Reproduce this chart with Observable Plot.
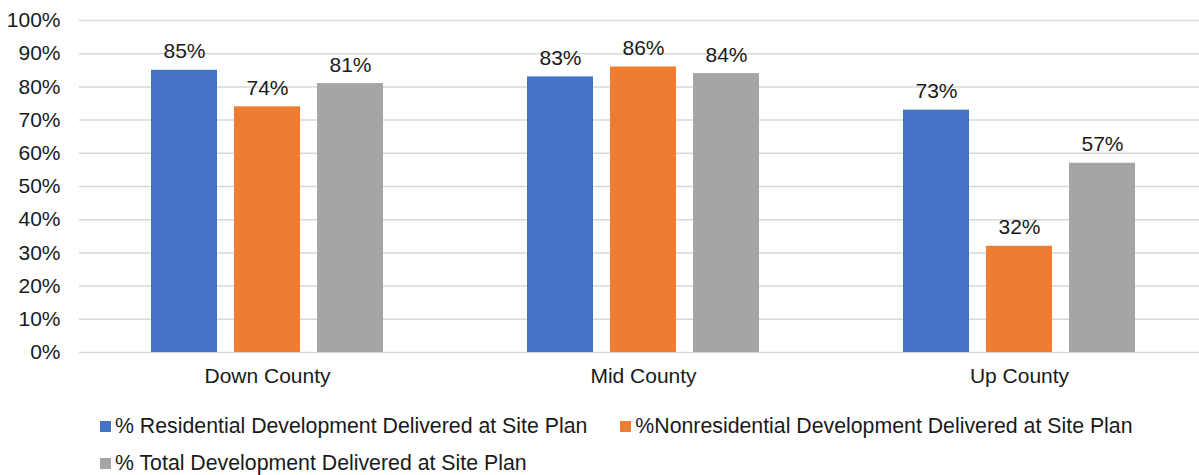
<!DOCTYPE html>
<html>
<head>
<meta charset="utf-8">
<script src="https://cdn.jsdelivr.net/npm/d3@7"></script>
<script src="https://cdn.jsdelivr.net/npm/@observablehq/plot@0.6"></script>
<style>
  html, body { margin: 0; padding: 0; background: #fff; }
  body { width: 1199px; height: 475px; overflow: hidden; font-family: "Liberation Sans", Arial, sans-serif; color: #1a1a1a; }
  #chart { width: 1199px; overflow: hidden; height: 395px; }
  #chart svg { max-width: none !important; }
  .legend { padding-left: 100px; font-size: 21.3px; }
  .row { display: flex; align-items: center; height: 37px; gap: 33px; }
  .item { display: flex; align-items: center; white-space: nowrap; }
  .sw { width: 11px; height: 11px; margin-right: 4px; display: inline-block; }
</style>
</head>
<body>
<div id="chart"></div>
<div id="legend" class="legend"></div>
<script>
const categories = ["Down County", "Mid County", "Up County"];
const seriesNames = [
  "% Residential Development Delivered at Site Plan",
  "%Nonresidential Development Delivered at Site Plan",
  "% Total Development Delivered at Site Plan"
];
const residential = [85, 83, 73];
const nonresidential = [74, 86, 32];
const total = [81, 84, 57];
const colors = ["#4472C4", "#ED7D31", "#A5A5A5"];
const yTicks = [0, 10, 20, 30, 40, 50, 60, 70, 80, 90, 100];

const seriesValues = [residential, nonresidential, total];
const data = categories.flatMap((c, i) =>
  seriesNames.map((s, j) => ({category: c, series: s, value: seriesValues[j][i]}))
);

const chart = Plot.plot({
  width: 1207,
  height: 395,
  marginLeft: 78,
  marginRight: 0,
  marginTop: 20,
  marginBottom: 43,
  style: {fontFamily: "'Liberation Sans', Arial, sans-serif", fontSize: "21px", color: "#1a1a1a", background: "#fff", maxWidth: "none"},
  fx: {domain: categories, padding: 0, label: null, axis: "bottom", tickSize: 0, tickPadding: 16},
  x: {domain: seriesNames, paddingInner: 0.21, paddingOuter: 0.858, axis: null},
  y: {domain: [0, 100], ticks: yTicks, tickFormat: d => d + "%", label: null, tickSize: 0, tickPadding: 19},
  color: {domain: seriesNames, range: colors},
  marks: [
    Plot.ruleY(yTicks, {stroke: "#d9d9d9", strokeWidth: 1.5}),
    Plot.barY(data, {fx: "category", x: "series", y: "value", fill: "series"}),
    Plot.text(data, {fx: "category", x: "series", y: "value", text: d => d.value + "%", dy: -12, lineAnchor: "bottom", fill: "#1a1a1a"})
  ]
});
document.getElementById("chart").appendChild(chart);

const legend = document.getElementById("legend");
const rows = [[0, 1], [2]];
rows.forEach((r, ri) => {
  const row = document.createElement("div");
  row.className = "row";
  if (ri === 0) row.style.marginTop = "13px";
  r.forEach(j => {
    const item = document.createElement("div");
    item.className = "item";
    const sw = document.createElement("span");
    sw.className = "sw";
    sw.style.background = colors[j];
    const t = document.createElement("span");
    t.textContent = seriesNames[j];
    item.appendChild(sw);
    item.appendChild(t);
    row.appendChild(item);
  });
  legend.appendChild(row);
});
</script>
</body>
</html>
